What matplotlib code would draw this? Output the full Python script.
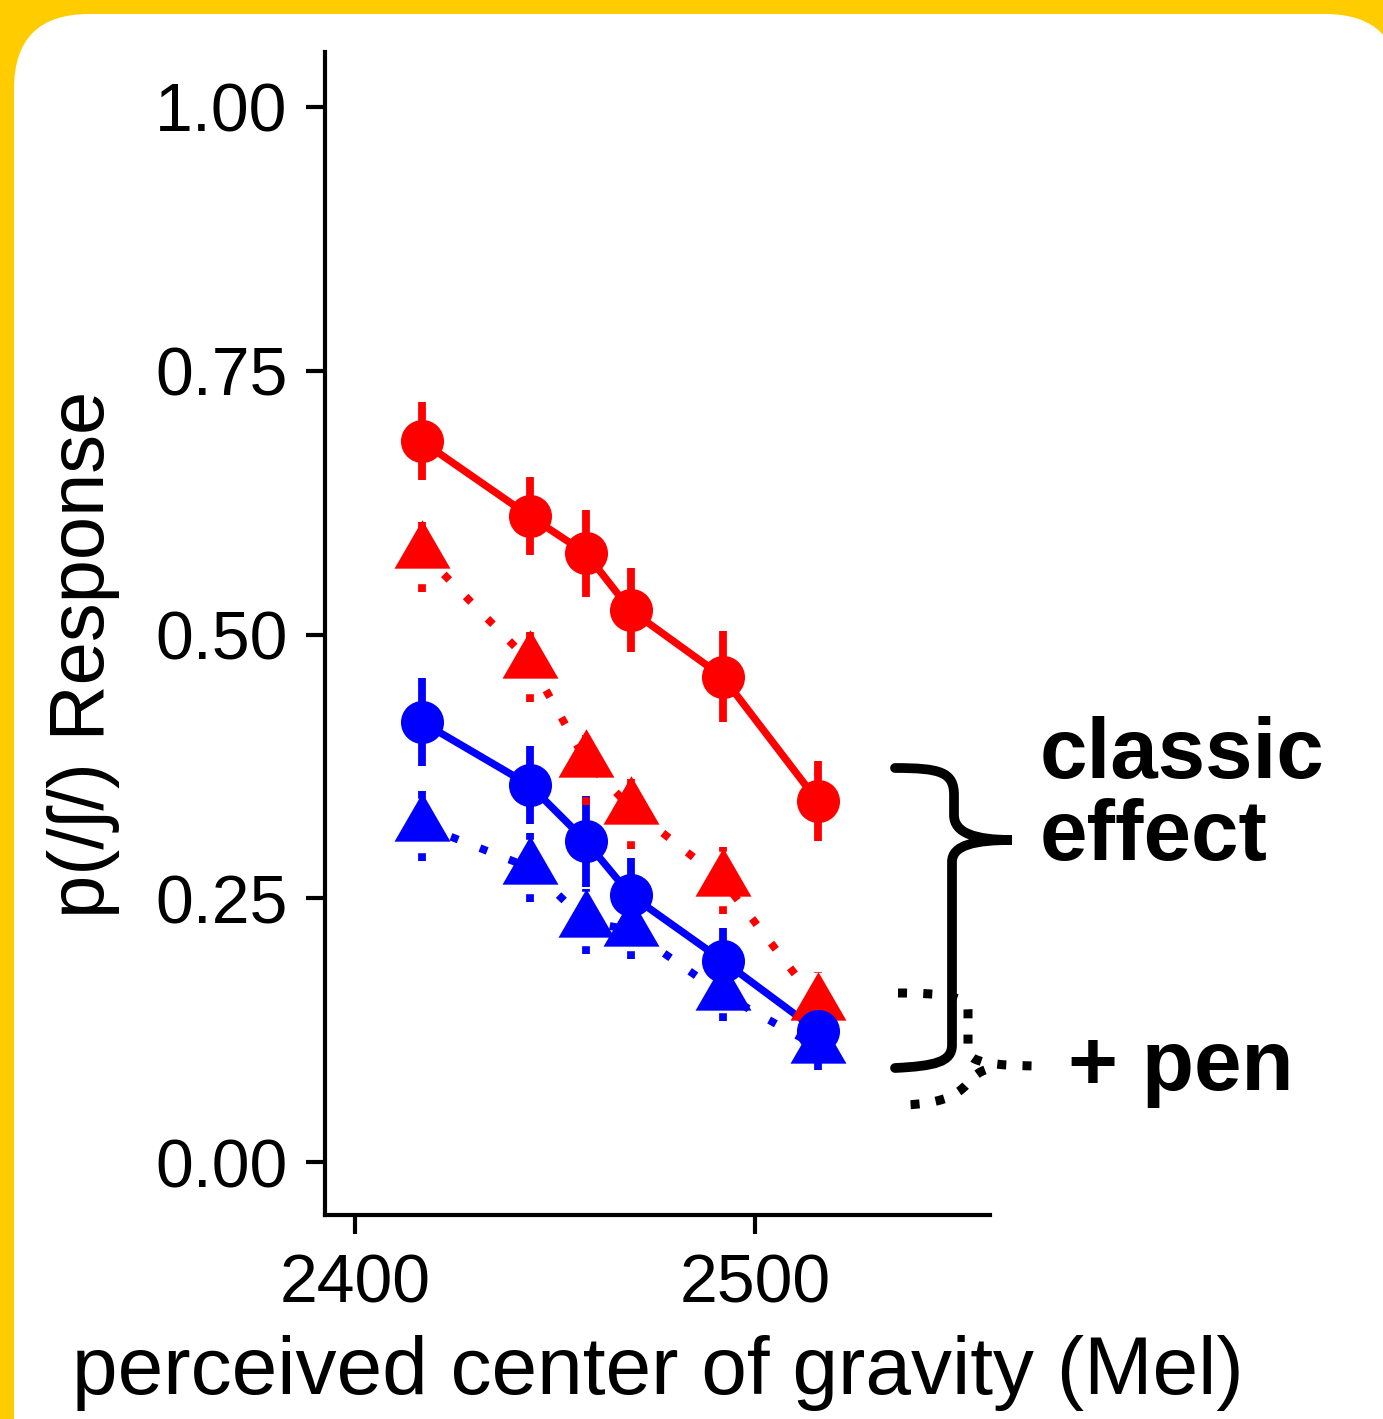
import numpy as np
import matplotlib
matplotlib.use("Agg")
import matplotlib.pyplot as plt
from matplotlib.path import Path
from matplotlib.patches import PathPatch, FancyBboxPatch
import matplotlib.transforms as mtransforms

plt.rcParams['font.family'] = ['Liberation Sans', 'DejaVu Sans']

# data
cog = [2416.75, 2443.75, 2457.75, 2468.9, 2491.9, 2515.7]

red_circle = [0.683, 0.612, 0.577, 0.523, 0.460, 0.342]
red_circle_se = [0.037, 0.037, 0.041, 0.040, 0.043, 0.038]
red_tri = [0.578, 0.474, 0.380, 0.336, 0.267, 0.150]
red_tri_se = [0.038, 0.038, 0.042, 0.039, 0.032, 0.030]

blue_circle = [0.417, 0.357, 0.304, 0.253, 0.191, 0.124]
blue_circle_se = [0.042, 0.037, 0.043, 0.035, 0.031, 0.028]
blue_tri = [0.319, 0.279, 0.228, 0.220, 0.159, 0.109]
blue_tri_se = [0.034, 0.033, 0.031, 0.028, 0.025, 0.022]

yticks = [0.00, 0.25, 0.50, 0.75, 1.00]
ytick_labels = ["0.00", "0.25", "0.50", "0.75", "1.00"]
xticks = [2400, 2500]

RED = "#FF0000"
BLUE = "#0000FF"
YELLOW = "#FFCC00"

W, H = 1383, 1419
fig = plt.figure(figsize=(W / 100, H / 100), dpi=100)
fig.patch.set_facecolor(YELLOW)

# pixel coords with origin at top-left
px = mtransforms.Affine2D().scale(1, -1).translate(0, H)

card = FancyBboxPatch((14 + 75, 14 + 75), 1400 - 14 - 150, 1500 - 14 - 150,
                      boxstyle="round,pad=75", facecolor="white", edgecolor="none",
                      transform=px, zorder=-10)
fig.patches.append(card)

ax = fig.add_axes([325 / W, 1 - 1215 / H, (990 - 325) / W, (1215 - 52) / H])
ax.set_facecolor("none")
ax.set_zorder(2)

# equilateral triangle centred on its centroid (like ggplot shape 17)
tri = Path([(0, 0.577), (-0.5, -0.289), (0.5, -0.289), (0, 0.577)],
           [Path.MOVETO, Path.LINETO, Path.LINETO, Path.CLOSEPOLY])

dotted = (0, (1, 3))

# error bars
for y, se, col, ls in [(blue_circle, blue_circle_se, BLUE, "solid"),
                       (blue_tri, blue_tri_se, BLUE, dotted),
                       (red_circle, red_circle_se, RED, "solid"),
                       (red_tri, red_tri_se, RED, dotted)]:
    y = np.array(y)
    se = np.array(se)
    ax.vlines(cog, y - se, y + se, colors=col, linewidth=5.6, linestyles=ls,
              capstyle="butt", zorder=2)

# lines
ax.plot(cog, red_circle, color=RED, lw=5.3, zorder=3)
ax.plot(cog, red_tri, color=RED, lw=5.6, ls=dotted, dash_capstyle="butt", zorder=3)
ax.plot(cog, blue_circle, color=BLUE, lw=5.3, zorder=3)
ax.plot(cog, blue_tri, color=BLUE, lw=5.6, ls=dotted, dash_capstyle="butt", zorder=3)

# points
ax.plot(cog, red_tri, ls="none", marker=tri, ms=46.5, color=RED, mew=0, zorder=4)
ax.plot(cog, red_circle, ls="none", marker="o", ms=31, color=RED, mew=0, zorder=4)
ax.plot(cog, blue_circle, ls="none", marker="o", ms=31, color=BLUE, mew=0, zorder=5)
ax.plot(cog, blue_tri, ls="none", marker=tri, ms=46.5, color=BLUE, mew=0, zorder=5)

ax.set_xlim(2392.5, 2558.75)
ax.set_ylim(-0.0502, 1.0521)
ax.set_yticks(yticks)
ax.set_yticklabels(ytick_labels)
ax.set_xticks(xticks)
for s in ["top", "right"]:
    ax.spines[s].set_visible(False)
for s in ["left", "bottom"]:
    ax.spines[s].set_linewidth(3)
ax.tick_params(length=14, width=3, labelsize=49, pad=13, color="black")
ax.set_xlabel("perceived center of gravity (Mel)", fontsize=59, labelpad=13)
ax.set_ylabel("p(/ʃ/) Response", fontsize=56)
ax.yaxis.set_label_coords(-0.308, 0.482)

# brace for "classic effect"
brace = Path([(895, 768), (940, 768), (954, 772), (954, 795),
              (954, 815),
              (954, 833), (975, 840), (1012, 840),
              (975, 840), (952, 845), (952, 862),
              (952, 1045),
              (952, 1062), (935, 1066), (895, 1068)],
             [Path.MOVETO, Path.CURVE4, Path.CURVE4, Path.CURVE4,
              Path.LINETO,
              Path.CURVE4, Path.CURVE4, Path.CURVE4,
              Path.CURVE4, Path.CURVE4, Path.CURVE4,
              Path.LINETO,
              Path.CURVE4, Path.CURVE4, Path.CURVE4])
fig.patches.append(PathPatch(brace, fill=False, lw=7, edgecolor="black",
                             capstyle="round", transform=px, zorder=3))

# dotted brace for "+ pen"
brace2 = Path([(898, 993), (940, 993), (968, 996), (968, 1010),
               (968, 1050),
               (968, 1062), (990, 1066), (1045, 1066),
               (985, 1070), (962, 1078), (972, 1102), (905, 1105)],
              [Path.MOVETO, Path.CURVE4, Path.CURVE4, Path.CURVE4,
               Path.LINETO,
               Path.CURVE4, Path.CURVE4, Path.CURVE4,
               Path.MOVETO, Path.CURVE4, Path.CURVE4, Path.CURVE4])
fig.patches.append(PathPatch(brace2, fill=False, lw=6.5, edgecolor="black",
                             linestyle=(0, (1, 1.8)), capstyle="butt", transform=px,
                             zorder=3))

fig.text(1040, 778, "classic", transform=px, fontsize=61.5, fontweight="bold",
         ha="left", va="baseline")
fig.text(1040, 860, "effect", transform=px, fontsize=61.5, fontweight="bold",
         ha="left", va="baseline")
fig.text(1068, 1090, "+ pen", transform=px, fontsize=61.5, fontweight="bold",
         ha="left", va="baseline")

fig.savefig("out.png", dpi=100, facecolor=fig.get_facecolor())
